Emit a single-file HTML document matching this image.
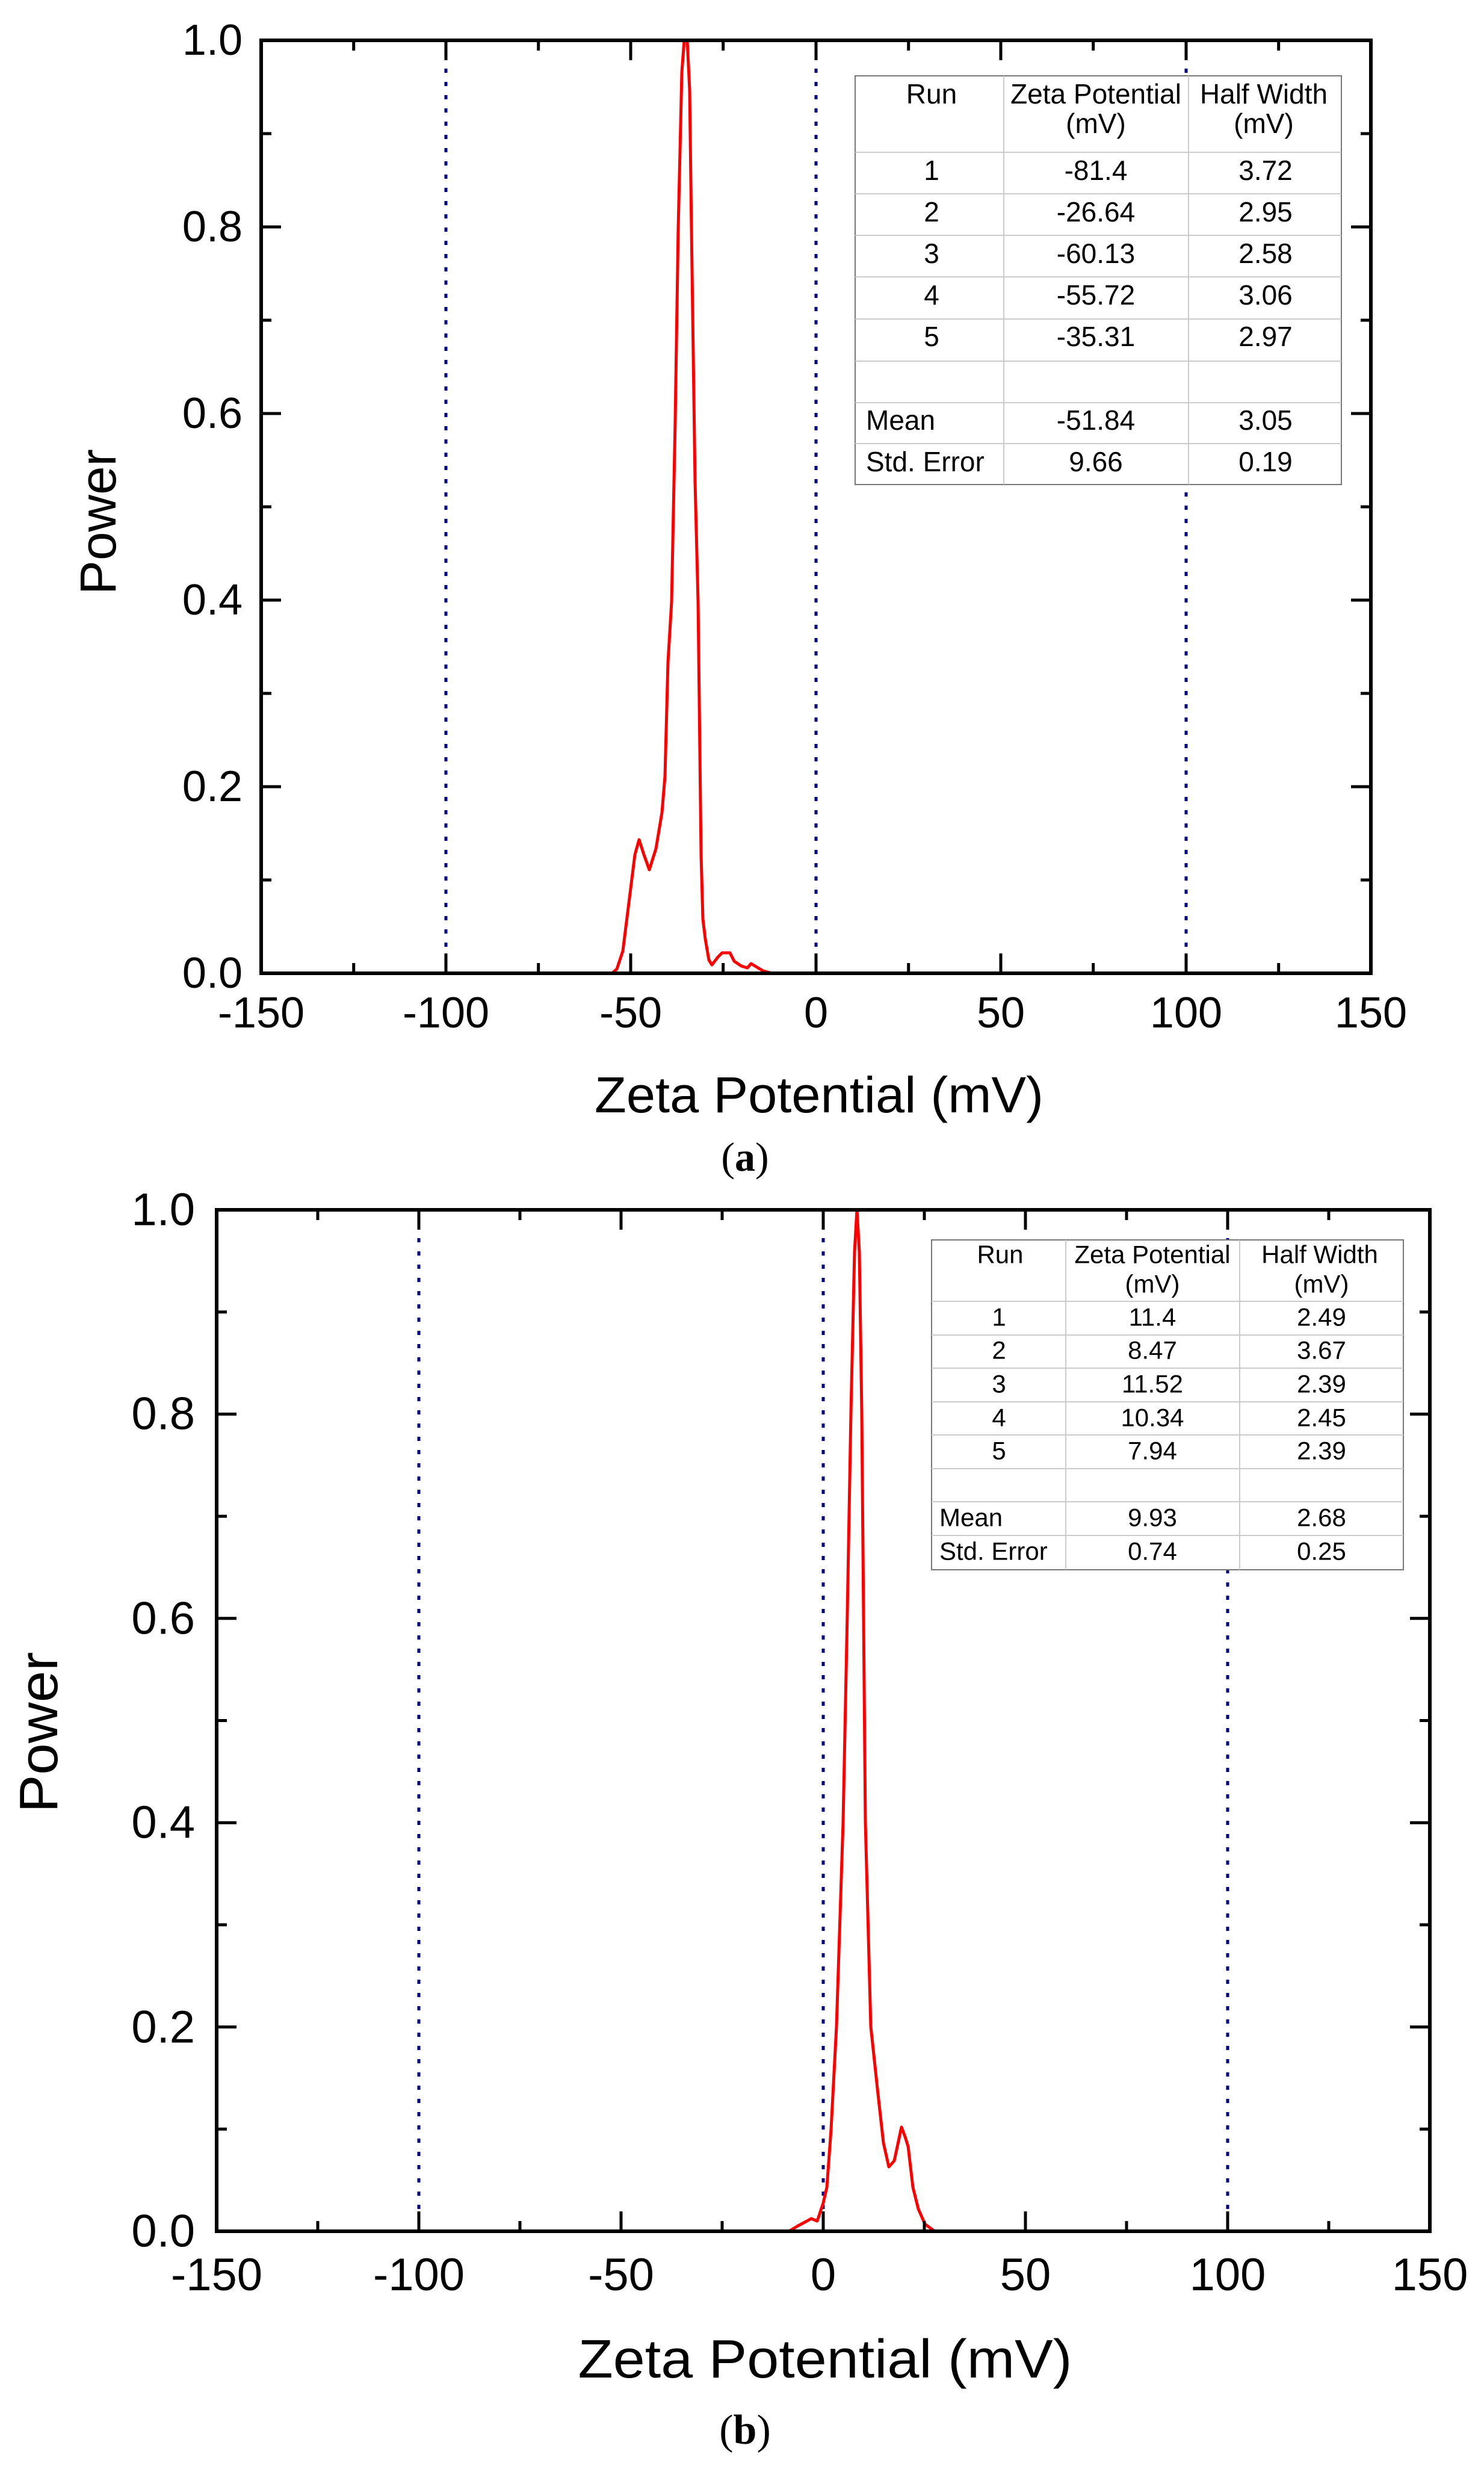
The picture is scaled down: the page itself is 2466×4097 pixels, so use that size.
<!DOCTYPE html>
<html><head><style>html,body{margin:0;padding:0;background:#fff}svg{display:block}</style></head><body>
<svg width="2466" height="4097" viewBox="0 0 2466 4097" xmlns="http://www.w3.org/2000/svg" font-family="Liberation Sans, sans-serif">
<rect width="2466" height="4097" fill="#fff"/>
<!-- ===== Plot A ===== -->
<g stroke="#000080" stroke-width="5" stroke-dasharray="7 15" fill="none">
<line x1="741" y1="70" x2="741" y2="1615"/><line x1="1356" y1="70" x2="1356" y2="1615"/><line x1="1971" y1="70" x2="1971" y2="1615"/>
</g>
<rect x="1421" y="126" width="808" height="679" fill="#fff" stroke="#777" stroke-width="2"/>
<g stroke="#ccc" stroke-width="2">
<line x1="1668" y1="126" x2="1668" y2="805"/><line x1="1975" y1="126" x2="1975" y2="805"/>
<line x1="1421" y1="253" x2="2229" y2="253"/><line x1="1421" y1="322" x2="2229" y2="322"/><line x1="1421" y1="391" x2="2229" y2="391"/><line x1="1421" y1="460" x2="2229" y2="460"/><line x1="1421" y1="530" x2="2229" y2="530"/><line x1="1421" y1="600" x2="2229" y2="600"/><line x1="1421" y1="669" x2="2229" y2="669"/><line x1="1421" y1="737" x2="2229" y2="737"/>
</g>
<g font-family="Liberation Sans Narrow, Liberation Sans, sans-serif" font-size="46" fill="#000" text-anchor="middle" dominant-baseline="central">
<text x="1548" y="156">Run</text><text x="1821" y="156">Zeta Potential</text><text x="2100" y="156">Half Width</text>
<text x="1821" y="205">(mV)</text><text x="2100" y="205">(mV)</text>
<text x="1548" y="283">1</text><text x="1821" y="283">-81.4</text><text x="2103" y="283">3.72</text>
<text x="1548" y="352">2</text><text x="1821" y="352">-26.64</text><text x="2103" y="352">2.95</text>
<text x="1548" y="421">3</text><text x="1821" y="421">-60.13</text><text x="2103" y="421">2.58</text>
<text x="1548" y="490">4</text><text x="1821" y="490">-55.72</text><text x="2103" y="490">3.06</text>
<text x="1548" y="559">5</text><text x="1821" y="559">-35.31</text><text x="2103" y="559">2.97</text>
<text x="1439" y="698" text-anchor="start">Mean</text><text x="1821" y="698">-51.84</text><text x="2103" y="698">3.05</text>
<text x="1439" y="767" text-anchor="start">Std. Error</text><text x="1821" y="767">9.66</text><text x="2103" y="767">0.19</text>
</g>
<polyline fill="none" stroke="#ff0000" stroke-width="5" stroke-linejoin="round" points="434,1617 1017,1617 1025,1610 1035,1580 1045,1500 1055,1420 1062,1395 1070,1420 1079,1445 1090,1410 1100,1350 1105,1290 1110,1100 1116,1000 1122,700 1127,380 1133,120 1137,67 1142,67 1146,150 1149,380 1155,800 1160,1000 1165,1420 1168,1527 1172,1560 1178,1595 1183,1603 1193,1590 1200,1583 1213,1583 1220,1597 1232,1605 1242,1608 1248,1601 1258,1607 1268,1613 1283,1617 2278,1617"/>
<g stroke="#000" stroke-width="5">
<rect x="434" y="67" width="1844" height="1550" fill="none" stroke-width="6"/>
<path d="M434,67v33M587.7,67v17M741,67v33M894.7,67v17M1048,67v33M1201.7,67v17M1356,67v33M1509.7,67v17M1663,67v33M1816.7,67v17M1971,67v33M2124.7,67v17M2278,67v33"/>
<path d="M434,1617v-33M587.7,1617v-17M741,1617v-33M894.7,1617v-17M1048,1617v-33M1201.7,1617v-17M1356,1617v-33M1509.7,1617v-17M1663,1617v-33M1816.7,1617v-17M1971,1617v-33M2124.7,1617v-17M2278,1617v-33"/>
<path d="M434,1617h33M434,1462h17M434,1307h33M434,1152h17M434,997h33M434,842h17M434,687h33M434,532h17M434,377h33M434,222h17M434,67h33"/>
<path d="M2278,1617h-33M2278,1462h-17M2278,1307h-33M2278,1152h-17M2278,997h-33M2278,842h-17M2278,687h-33M2278,532h-17M2278,377h-33M2278,222h-17M2278,67h-33"/>
</g>
<g font-size="72" fill="#000" text-anchor="end" dominant-baseline="central">
<text x="403" y="67">1.0</text><text x="403" y="377">0.8</text><text x="403" y="687">0.6</text><text x="403" y="997">0.4</text><text x="403" y="1307">0.2</text><text x="403" y="1617">0.0</text>
</g>
<g font-size="72" fill="#000" text-anchor="middle">
<text x="434" y="1707">-150</text><text x="741" y="1707">-100</text><text x="1048" y="1707">-50</text><text x="1356" y="1707">0</text><text x="1663" y="1707">50</text><text x="1971" y="1707">100</text><text x="2278" y="1707">150</text>
</g>
<text x="1361" y="1848" font-size="84" text-anchor="middle" textLength="746" lengthAdjust="spacingAndGlyphs">Zeta Potential (mV)</text>
<text transform="translate(192,867) rotate(-90)" font-size="84" text-anchor="middle" textLength="242" lengthAdjust="spacingAndGlyphs">Power</text>
<text x="1238" y="1945" font-family="Liberation Serif, serif" font-size="68" text-anchor="middle">(<tspan font-weight="bold">a</tspan>)</text>

<!-- ===== Plot B ===== -->
<g stroke="#000080" stroke-width="5" stroke-dasharray="7 15" fill="none">
<line x1="696" y1="2013" x2="696" y2="3705"/><line x1="1368" y1="2013" x2="1368" y2="3705"/><line x1="2040" y1="2013" x2="2040" y2="3705"/>
</g>
<rect x="1548" y="2060" width="784" height="548" fill="#fff" stroke="#777" stroke-width="2"/>
<g stroke="#ccc" stroke-width="2">
<line x1="1771" y1="2060" x2="1771" y2="2608"/><line x1="2060" y1="2060" x2="2060" y2="2608"/>
<line x1="1548" y1="2162" x2="2332" y2="2162"/><line x1="1548" y1="2218" x2="2332" y2="2218"/><line x1="1548" y1="2273" x2="2332" y2="2273"/><line x1="1548" y1="2329" x2="2332" y2="2329"/><line x1="1548" y1="2384" x2="2332" y2="2384"/><line x1="1548" y1="2440" x2="2332" y2="2440"/><line x1="1548" y1="2495" x2="2332" y2="2495"/><line x1="1548" y1="2551" x2="2332" y2="2551"/>
</g>
<g font-family="Liberation Sans Narrow, Liberation Sans, sans-serif" font-size="42" fill="#000" text-anchor="middle" dominant-baseline="central">
<text x="1662" y="2084">Run</text><text x="1915" y="2084">Zeta Potential</text><text x="2193" y="2084">Half Width</text>
<text x="1915" y="2133">(mV)</text><text x="2196" y="2133">(mV)</text>
<text x="1660" y="2188">1</text><text x="1915" y="2188">11.4</text><text x="2196" y="2188">2.49</text>
<text x="1660" y="2243">2</text><text x="1915" y="2243">8.47</text><text x="2196" y="2243">3.67</text>
<text x="1660" y="2299">3</text><text x="1915" y="2299">11.52</text><text x="2196" y="2299">2.39</text>
<text x="1660" y="2355">4</text><text x="1915" y="2355">10.34</text><text x="2196" y="2355">2.45</text>
<text x="1660" y="2410">5</text><text x="1915" y="2410">7.94</text><text x="2196" y="2410">2.39</text>
<text x="1561" y="2521" text-anchor="start">Mean</text><text x="1915" y="2521">9.93</text><text x="2196" y="2521">2.68</text>
<text x="1561" y="2577" text-anchor="start">Std. Error</text><text x="1915" y="2577">0.74</text><text x="2196" y="2577">0.25</text>
</g>
<polyline fill="none" stroke="#ff0000" stroke-width="5" stroke-linejoin="round" points="360,3707 1311,3707 1326,3698 1341,3690 1348,3686 1358,3690 1368,3660 1374,3634 1381,3538 1390,3367 1401,3027 1408,2680 1414,2347 1420,2080 1424,2010 1428,2080 1432,2347 1438,3027 1447,3367 1458,3470 1468,3560 1477,3600 1486,3590 1498,3534 1504,3550 1509,3566 1517,3634 1526,3670 1537,3695 1553,3707 2376,3707"/>
<g stroke="#000" stroke-width="5">
<rect x="360" y="2010" width="2016" height="1697" fill="none" stroke-width="6"/>
<path d="M360,2010v33M528,2010v17M696,2010v33M864,2010v17M1032,2010v33M1200,2010v17M1368,2010v33M1536,2010v17M1704,2010v33M1872,2010v17M2040,2010v33M2208,2010v17M2376,2010v33"/>
<path d="M360,3707v-33M528,3707v-17M696,3707v-33M864,3707v-17M1032,3707v-33M1200,3707v-17M1368,3707v-33M1536,3707v-17M1704,3707v-33M1872,3707v-17M2040,3707v-33M2208,3707v-17M2376,3707v-33"/>
<path d="M360,3707h33M360,3537.3h17M360,3367.6h33M360,3197.9h17M360,3028.2h33M360,2858.5h17M360,2688.8h33M360,2519.1h17M360,2349.4h33M360,2179.7h17M360,2010h33"/>
<path d="M2376,3707h-33M2376,3537.3h-17M2376,3367.6h-33M2376,3197.9h-17M2376,3028.2h-33M2376,2858.5h-17M2376,2688.8h-33M2376,2519.1h-17M2376,2349.4h-33M2376,2179.7h-17M2376,2010h-33"/>
</g>
<g font-size="76" fill="#000" text-anchor="end" dominant-baseline="central">
<text x="324" y="2010">1.0</text><text x="324" y="2349">0.8</text><text x="324" y="2689">0.6</text><text x="324" y="3028">0.4</text><text x="324" y="3368">0.2</text><text x="324" y="3707">0.0</text>
</g>
<g font-size="76" fill="#000" text-anchor="middle">
<text x="360" y="3805">-150</text><text x="696" y="3805">-100</text><text x="1032" y="3805">-50</text><text x="1368" y="3805">0</text><text x="1704" y="3805">50</text><text x="2040" y="3805">100</text><text x="2376" y="3805">150</text>
</g>
<text x="1371" y="3950" font-size="90" text-anchor="middle" textLength="821" lengthAdjust="spacingAndGlyphs">Zeta Potential (mV)</text>
<text transform="translate(95,2878) rotate(-90)" font-size="90" text-anchor="middle" textLength="267" lengthAdjust="spacingAndGlyphs">Power</text>
<text x="1238" y="4060" font-family="Liberation Serif, serif" font-size="70" text-anchor="middle">(<tspan font-weight="bold">b</tspan>)</text>
</svg>
</body></html>
